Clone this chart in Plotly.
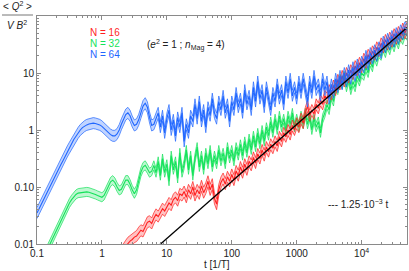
import plotly.graph_objects as go

# ---------------- data ----------------
T = [0.1, 0.108, 0.1166, 0.1259, 0.1359, 0.1468, 0.1585, 0.1711, 0.1848, 0.1995,
     0.2154, 0.2326, 0.2512, 0.2712, 0.2929, 0.3162, 0.3415, 0.3687, 0.3981, 0.4299,
     0.4642, 0.5012, 0.5412, 0.5843, 0.631, 0.6813, 0.7356, 0.7943, 0.8577, 0.9261,
     1.0, 1.08, 1.166, 1.259, 1.359, 1.468, 1.585, 1.711, 1.848, 1.995,
     2.154, 2.326, 2.512, 2.712, 2.929, 3.162, 3.415, 3.687, 3.981, 4.299,
     4.642, 5.012, 5.412, 5.843, 6.31, 6.813, 7.356, 7.943, 8.577, 9.261,
     10, 10.8, 11.66, 12.59, 13.59, 14.68, 15.85, 17.11, 18.48, 19.95,
     21.54, 23.26, 25.12, 27.12, 29.29, 31.62, 34.15, 36.87, 39.81, 42.99,
     46.42, 50.12, 54.12, 58.43, 63.1, 68.13, 73.56, 79.43, 85.77, 92.61,
     100, 108, 116.6, 125.9, 135.9, 146.8, 158.5, 171.1, 184.8, 199.5,
     215.4, 232.6, 251.2, 271.2, 292.9, 316.2, 341.5, 368.7, 398.1, 429.9,
     464.2, 501.2, 541.2, 584.3, 631, 681.3, 735.6, 794.3, 857.7, 926.1,
     1000, 1080, 1166, 1259, 1359, 1468, 1585, 1711, 1848, 1995,
     2154, 2326, 2512, 2712, 2929, 3162, 3415, 3687, 3981, 4299,
     4642, 5012, 5412, 5843, 6310, 6813, 7356, 7943, 8577, 9261,
     10000, 10800, 11660, 12590, 13590, 14680, 15850, 17110, 18480, 19950,
     21540, 23260, 25120, 27120, 29290, 31620, 34150, 36870, 39810, 42990,
     46420, 50120]

Q2_N64 = [0.035, 0.042, 0.050, 0.060, 0.072, 0.085, 0.10, 0.12, 0.145, 0.17,
          0.21, 0.245, 0.29, 0.35, 0.42, 0.49, 0.575, 0.68, 0.78, 0.89,
          1.0, 1.10, 1.17, 1.23, 1.27, 1.30, 1.32, 1.30, 1.27, 1.23,
          1.16, 1.07, 0.98, 0.89, 0.83, 0.79, 0.79, 0.85, 1.0, 1.26,
          1.58, 1.86, 2.0, 1.78, 1.41, 1.20, 1.26, 1.51, 2.0, 2.63,
          2.95, 2.51, 1.66, 1.2, 1.26, 1.66, 2.0, 1.12, 1.78, 0.89,
          1.58, 2.24, 1.0, 1.51, 0.79, 1.66, 1.12, 2.0, 0.63, 1.26,
          0.89, 1.78, 1.41, 2.82, 1.58, 3.16, 1.41, 2.24, 1.12, 2.51,
          1.78, 3.55, 2.0, 1.58, 3.16, 2.24, 3.98, 2.0, 2.82, 1.41,
          3.16, 2.24, 4.47, 2.51, 3.55, 2.0, 5.01, 2.82, 3.98, 2.24,
          5.62, 3.16, 7.08, 3.55, 5.01, 2.51, 5.62, 3.55, 2.24, 4.47,
          3.16, 6.31, 3.55, 5.01, 2.82, 7.08, 4.47, 7.94, 3.98, 5.62,
          3.55, 7.08, 4.47, 7.94, 5.01, 3.16, 7.08, 4.47, 8.91, 5.01,
          6.31, 3.98, 7.94, 5.01, 7.08, 3.55, 6.31, 4.47, 7.94, 5.62,
          8.91, 6.31, 10.0, 7.08, 11.2, 7.94, 12.6, 8.91, 14.1, 10.0,
          15.8, 12.6, 20.0, 14.1, 22.4, 17.8, 25.1, 20.0, 28.2, 22.4,
          35.5, 28.2, 39.8, 31.6, 44.7, 35.5, 50.1, 39.8, 56.2, 47.9,
          63.1, 56.2]

Q2_N32 = [0.0032, 0.0038, 0.0047, 0.0056, 0.0068, 0.0083, 0.010, 0.012, 0.0148, 0.0178,
          0.0214, 0.0263, 0.0316, 0.038, 0.0447, 0.0525, 0.060, 0.068, 0.074, 0.078,
          0.079, 0.081, 0.082, 0.082, 0.081, 0.079, 0.078, 0.074, 0.071, 0.068,
          0.066, 0.071, 0.085, 0.105, 0.123, 0.132, 0.12, 0.10, 0.087, 0.091,
          0.112, 0.132, 0.132, 0.112, 0.089, 0.076, 0.089, 0.132, 0.182, 0.224,
          0.24, 0.209, 0.178, 0.19, 0.24, 0.178, 0.282, 0.158, 0.316, 0.178,
          0.251, 0.126, 0.355, 0.2, 0.282, 0.141, 0.398, 0.178, 0.251, 0.447,
          0.2, 0.355, 0.158, 0.316, 0.501, 0.224, 0.355, 0.2, 0.398, 0.251,
          0.447, 0.224, 0.355, 0.251, 0.447, 0.282, 0.398, 0.251, 0.501, 0.316,
          0.447, 0.282, 0.501, 0.355, 0.562, 0.355, 0.631, 0.398, 0.708, 0.447,
          0.794, 0.501, 0.891, 0.562, 1.0, 0.631, 1.12, 0.794, 1.41, 0.891,
          1.58, 1.0, 1.78, 1.12, 1.58, 1.0, 1.78, 1.26, 2.0, 1.12,
          1.58, 1.12, 1.78, 1.26, 2.0, 1.26, 1.78, 1.0, 1.58, 1.12,
          1.41, 0.891, 1.58, 2.0, 2.82, 2.24, 3.98, 3.16, 5.62, 5.01,
          7.94, 6.31, 8.91, 5.62, 7.94, 5.01, 7.08, 5.62, 8.91, 7.08,
          10.0, 8.91, 12.6, 10.0, 15.8, 12.6, 20.0, 15.8, 22.4, 20.0,
          28.2, 22.4, 31.6, 25.1, 35.5, 28.2, 39.8, 31.6, 44.7, 38.0,
          50.1, 44.7]

Q2_N16 = [None] * 36 + [
          0.0040, 0.0050, 0.0060, 0.0071,
          0.0083, 0.0093, 0.0105, 0.0112, 0.012, 0.0132, 0.0138, 0.0158, 0.0174, 0.0166,
          0.020, 0.024, 0.0251, 0.0229, 0.0282, 0.0331, 0.0302, 0.0355, 0.0417, 0.038,
          0.0447, 0.0525, 0.0479, 0.060, 0.066, 0.0575, 0.0759, 0.0708, 0.0832, 0.066,
          0.0891, 0.0759, 0.10, 0.0708, 0.0891, 0.0759, 0.105, 0.0794, 0.0955, 0.126,
          0.0891, 0.112, 0.063, 0.050, 0.0891, 0.12, 0.141, 0.112, 0.151, 0.126,
          0.166, 0.132, 0.191, 0.158, 0.224, 0.178, 0.251, 0.2, 0.282, 0.24,
          0.331, 0.263, 0.38, 0.316, 0.447, 0.355, 0.501, 0.417, 0.562, 0.479,
          0.631, 0.525, 0.759, 0.631, 0.891, 0.759, 1.0, 0.832, 1.2, 1.0,
          1.32, 1.12, 1.58, 1.32, 2.0, 2.63, 1.78, 2.24, 1.91, 2.82,
          2.4, 3.31, 2.82, 3.98, 3.55, 5.01, 4.17, 6.03, 5.01, 7.59,
          6.31, 8.91, 7.08, 10.0, 8.32, 11.2, 9.55, 13.2, 11.2, 15.1,
          12.6, 17.8, 15.1, 20.9, 17.8, 24.0, 20.9, 28.2, 24.0, 33.1,
          28.2, 38.0, 31.6, 41.7, 35.5, 47.9, 39.8, 52.5, 44.7, 60.3,
          50.1, 63.1]

# multiplicative half-width of the error band
BAND_N16 = 1.25
BAND_N32 = 1.2
BAND_N64 = 1.25

FIT_COEF = 1.25e-3   # 1.25e-3 * t

X_TICKS = [0.1, 1, 10, 100, 1000, 10000]
X_TICK_TEXT = ["0.1", "1", "10", "100", "1000", "10<sup>4</sup>"]
Y_TICKS = [0.01, 0.1, 1, 10]
Y_TICK_TEXT = ["0.01", "0.10", "1", "10"]

assert len(T) == len(Q2_N64) == len(Q2_N32) == len(Q2_N16)

# ---------------- styling ----------------
FONT = "Liberation Sans, Arial, sans-serif"
FRAME = "#8a8a8a"
TXT = "#222222"
RED, RED_F = "#ff1f1f", "rgba(255,40,40,0.28)"
GREEN, GREEN_F = "#14e35a", "rgba(20,227,90,0.28)"
BLUE, BLUE_F = "#1f66ff", "rgba(31,102,255,0.28)"

fig = go.Figure()


def add_series(t, y, band, color, fill):
    pts = [(a, b) for a, b in zip(t, y) if b is not None]
    tt = [p[0] for p in pts]
    yy = [p[1] for p in pts]
    hi = [v * band for v in yy]
    lo = [v / band for v in yy]
    fig.add_trace(go.Scatter(x=tt, y=hi, mode="lines", line=dict(color=color, width=0.7),
                             hoverinfo="skip", showlegend=False))
    fig.add_trace(go.Scatter(x=tt, y=lo, mode="lines", line=dict(color=color, width=0.7),
                             fill="tonexty", fillcolor=fill, hoverinfo="skip", showlegend=False))
    fig.add_trace(go.Scatter(x=tt, y=yy, mode="lines", line=dict(color=color, width=1.1),
                             showlegend=False))


add_series(T, Q2_N32, BAND_N32, GREEN, GREEN_F)
add_series(T, Q2_N16, BAND_N16, RED, RED_F)
add_series(T, Q2_N64, BAND_N64, BLUE, BLUE_F)

t_fit = [T[0], T[-1]]
fig.add_trace(go.Scatter(x=t_fit, y=[FIT_COEF * t for t in t_fit], mode="lines",
                         line=dict(color="black", width=1.3), showlegend=False))

minor_x = [m * 10.0 ** d for d in range(-1, 5) for m in range(2, 10)]
minor_y = [m * 10.0 ** d for d in range(-2, 2) for m in range(2, 10)]

axis_common = dict(type="log", showline=True, linecolor=FRAME, linewidth=1, mirror="ticks",
                   ticks="inside", ticklen=4, tickcolor=FRAME, tickwidth=1,
                   showgrid=False, zeroline=False,
                   tickfont=dict(family=FONT, size=10, color=TXT))

fig.update_layout(
    width=409, height=271,
    margin=dict(l=37, r=2, t=16, b=27),
    paper_bgcolor="white", plot_bgcolor="white",
    font=dict(family=FONT, size=10, color=TXT),
    showlegend=False,
    xaxis=dict(range=[-1, 4.699], tickmode="array", tickvals=X_TICKS, ticktext=X_TICK_TEXT,
               minor=dict(tickmode="array", tickvals=minor_x, ticks="inside", ticklen=2,
                          tickcolor=FRAME, showgrid=False),
               **axis_common),
    yaxis=dict(range=[-2, 2], tickmode="array", tickvals=Y_TICKS, ticktext=Y_TICK_TEXT,
               minor=dict(tickmode="array", tickvals=minor_y, ticks="inside", ticklen=2,
                          tickcolor=FRAME, showgrid=False),
               **axis_common),
)

W, H, L, TOP = 370.0, 228.0, 37.0, 16.0


def px(x):
    return (x - L) / W


def py(y):
    return 1 - (y - TOP) / H


ann = [
    dict(x=px(17), y=py(6), text="< <i>Q</i><sup>2</sup> >", xanchor="center", yanchor="middle"),
    dict(x=px(17), y=py(25), text="<i>V B</i><sup>2</sup>", xanchor="center", yanchor="middle"),
    dict(x=px(88), y=py(32), text="N = 16", xanchor="left", yanchor="middle", color=RED),
    dict(x=px(88), y=py(44), text="N = 32", xanchor="left", yanchor="middle", color=GREEN),
    dict(x=px(88), y=py(55), text="N = 64", xanchor="left", yanchor="middle", color=BLUE),
    dict(x=px(145), y=py(45), text="(<i>e</i><sup>2</sup> = 1 ; <i>n</i><sub>Mag</sub> = 4)",
         xanchor="left", yanchor="middle"),
    dict(x=px(326), y=py(204), text="--- 1.25·10<sup>−3</sup> t", xanchor="left", yanchor="middle"),
    dict(x=px(217), y=py(264), text="t [1/T]", xanchor="center", yanchor="middle"),
]
for a in ann:
    color = a.pop("color", TXT)
    fig.add_annotation(xref="paper", yref="paper", showarrow=False,
                       font=dict(family=FONT, size=10, color=color), **a)

fig.add_shape(type="line", xref="paper", yref="paper", x0=px(2), x1=px(33),
              y0=py(15), y1=py(15), line=dict(color="#777777", width=1))

fig.write_html("out.html", config={"displayModeBar": False},
               post_script="document.body.style.margin='0px';")
